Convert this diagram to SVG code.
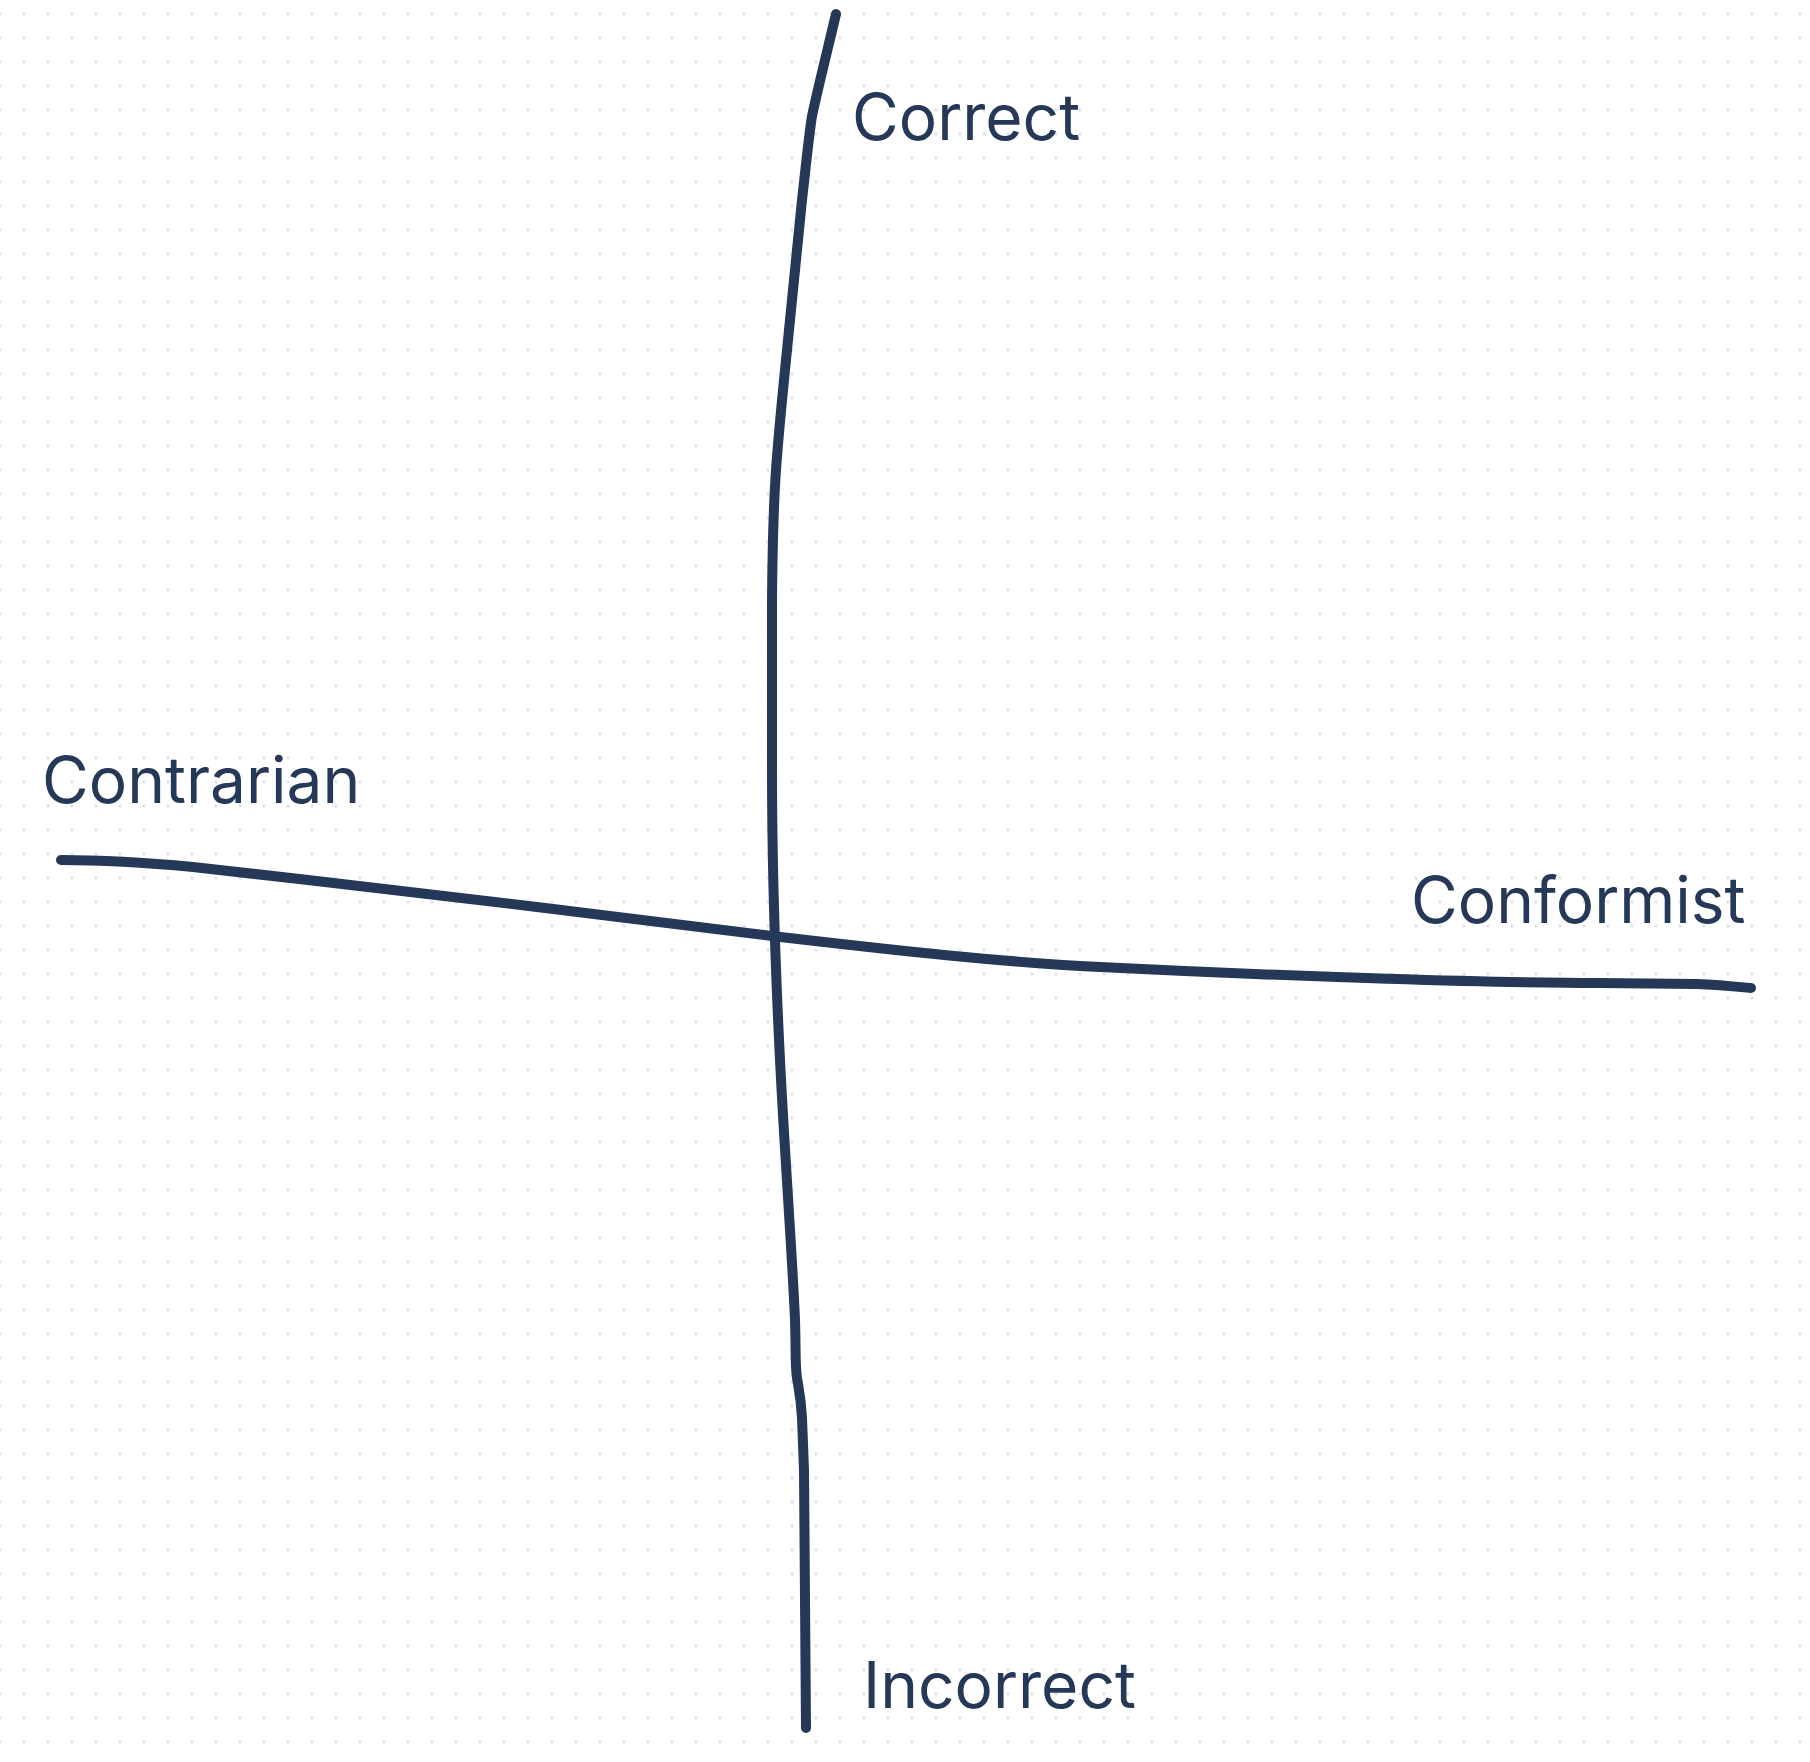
<svg xmlns="http://www.w3.org/2000/svg" width="1810" height="1762" viewBox="0 0 1810 1762">
  <style>
    .axis { fill: none; stroke: #253858; stroke-width: 10; stroke-linecap: round; stroke-linejoin: round; }
    .label { font-family: Inter, "Noto Sans", "Liberation Sans", sans-serif; font-size: 64px; fill: #253858; }
  </style>
  <defs>
    <!-- dotted canvas grid, 24px pitch -->
    <pattern id="dots" x="-12" y="2" width="24" height="24" patternUnits="userSpaceOnUse">
      <circle cx="12" cy="12" r="1.6" fill="#dddee5"/>
    </pattern>
  </defs>

  <rect width="1810" height="1762" fill="#ffffff"/>
  <rect width="1810" height="1762" fill="url(#dots)"/>

  <!-- hand-drawn axes -->
  <g id="connectors">
    <path id="axis-vertical" class="axis" d="M836 14 C828 48 818 88 812 116 C808 142 805 175 802 200 L785 370 C776 460 773 490 772 600 L772 770 C772 870 775 960 780 1060 C785 1160 792 1250 795 1320 C796 1350 795 1366 797 1378 C799 1390 801 1398 802 1418 L804 1470 L806 1728"/>
    <path id="axis-horizontal" class="axis" d="M61 860 C90 860 140 862 193 867 L308 880 L537 907 L772 936 C900 951 1000 962 1100 967 C1300 977 1500 983 1600 983 L1697 984 C1720 985 1740 987 1751 988"/>
  </g>

  <g id="label-correct">
    <text class="label" x="852" y="140">Correct</text>
  </g>
  <g id="label-contrarian">
    <text class="label" x="42" y="803">Contrarian</text>
  </g>
  <g id="label-conformist">
    <text class="label" x="1411" y="923">Conformist</text>
  </g>
  <g id="label-incorrect">
    <text class="label" x="863" y="1708">Incorrect</text>
  </g>
</svg>
